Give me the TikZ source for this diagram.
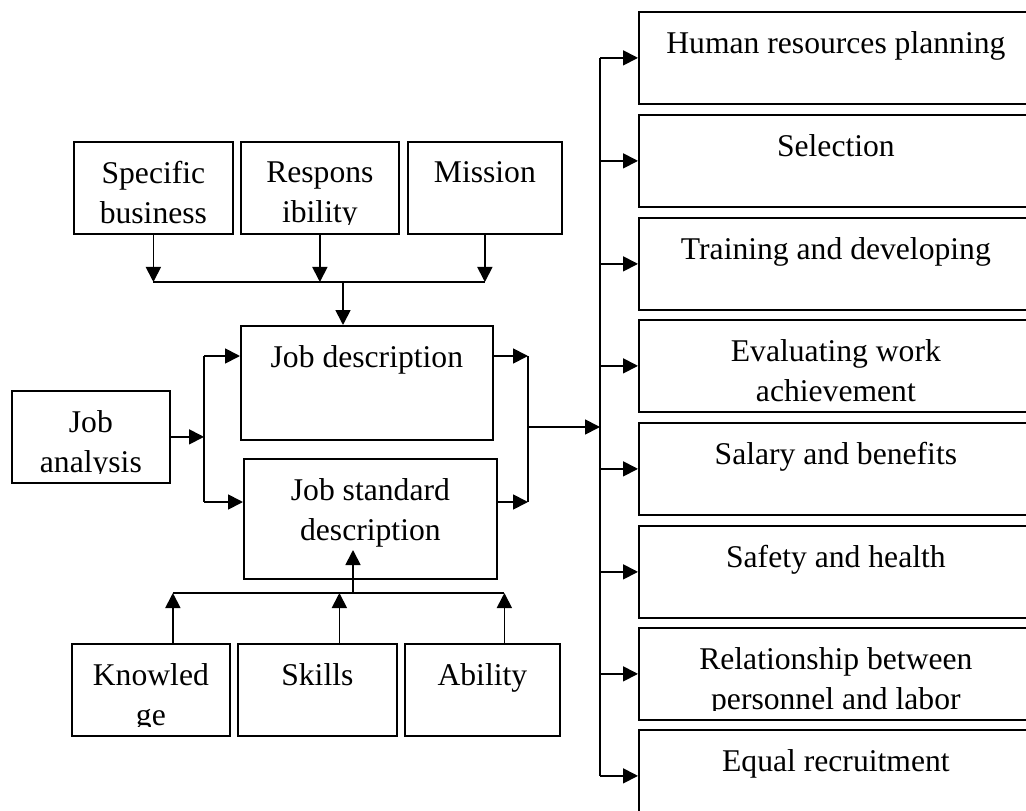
\documentclass[tikz,border=0pt]{standalone}
\usepackage{fontspec}
\setmainfont{Liberation Serif}
\usetikzlibrary{arrows.meta}

\tikzset{
  box/.style={draw, line width=1pt, inner sep=0pt, anchor=north west},
  words/.style={anchor=north, align=center, inner sep=0pt,
    font=\fontsize{18}{22.8}\selectfont},
  arr/.style={-{Triangle[length=3mm,width=3mm]}, line width=1pt},
  ln/.style={line width=1pt},
}

% text sits at the top of a box and is cut off a little above its bottom edge
\newcommand\boxtext[2]{%
  \begin{scope}
    \clip ([yshift=2mm]#1.south west) rectangle (#1.north east);
    \node[words] (#1-txt) at ([yshift=-4mm]#1.north) {#2};
  \end{scope}}

\begin{document}
\begin{tikzpicture}[x=0.2mm, y=-0.2mm]
\useasboundingbox (0,0) rectangle (1026,811);

% top row
\node[box, minimum width=31.8mm, minimum height=18.4mm] (spec) at (73,141) {};
\node[box, minimum width=31.6mm, minimum height=18.4mm] (resp) at (240,141) {};
\node[box, minimum width=30.8mm, minimum height=18.4mm] (miss) at (407,141) {};
\boxtext{spec}{Specific\\business}
\boxtext{resp}{Respons\\ibility}
\boxtext{miss}{Mission}

% middle
\node[box, minimum width=31.6mm, minimum height=18.4mm] (jana) at (11,390) {};
\node[box, minimum width=50.4mm, minimum height=22.8mm] (jdesc) at (240,325) {};
\node[box, minimum width=50.6mm, minimum height=24mm] (jstd) at (243,458) {};
\boxtext{jana}{Job\\analysis}
\boxtext{jdesc}{Job description}
\boxtext{jstd}{Job standard\\description}

% bottom row
\node[box, minimum width=31.6mm, minimum height=18.4mm] (know) at (71,643) {};
\node[box, minimum width=31.8mm, minimum height=18.4mm] (skill) at (237,643) {};
\node[box, minimum width=31mm, minimum height=18.4mm] (abil) at (404,643) {};
\boxtext{know}{Knowled\\ge}
\boxtext{skill}{Skills}
\boxtext{abil}{Ability}

% the functions on the right, one under the other
\coordinate (fan) at (600,427);
\foreach \name/\top/\txt in {hrp/11/Human resources planning, sel/114/Selection,
    train/217/Training and developing, eval/319/Evaluating work\\achievement,
    pay/422/Salary and benefits, safe/525/Safety and health,
    rel/627/Relationship between\\personnel and labor, eqr/729/Equal recruitment}{
  \node[box, minimum width=78.8mm, minimum height=18.4mm] (\name) at (638,\top) {};
  \boxtext{\name}{\txt}
  \draw[arr] (fan |- \name.west) -- (\name.west);
}
\draw[ln] (fan |- hrp.west) -- (fan |- eqr.west);

% into the job description
\coordinate (tbus) at (343,282);
\draw[arr] (spec.south) -- (spec.south |- tbus);
\draw[arr] (resp.south) -- (resp.south |- tbus);
\draw[arr] (miss.south) -- (miss.south |- tbus);
\draw[ln] (spec.south |- tbus) -- (miss.south |- tbus);
\draw[arr] (tbus) -- (tbus |- jdesc.north);

% job analysis splits in two
\coordinate (lup) at (204,356);
\coordinate (ldn) at (204,502);
\draw[arr] (jana.east) -- (lup |- jana.east);
\draw[ln] (lup) -- (ldn);
\draw[arr] (lup) -- (lup -| jdesc.west);
\draw[arr] (ldn) -- (ldn -| jstd.west);

% and joins again on the right
\coordinate (rup) at (528,356);
\coordinate (rdn) at (528,502);
\coordinate (rmid) at (528,427);
\draw[arr] (rup -| jdesc.east) -- (rup);
\draw[arr] (rdn -| jstd.east) -- (rdn);
\draw[ln] (rup) -- (rdn);
\draw[arr] (rmid) -- (fan);

% up into the job standard description
\coordinate (bbus) at (353,593);
\foreach \b in {know,skill,abil}
  \draw[arr] ([xshift=4.4mm]\b.north) -- ++(0,-50);
\draw[ln] ([xshift=4.4mm,yshift=10mm]know.north) -- ([xshift=4.4mm,yshift=10mm]abil.north);
\draw[arr] (bbus) -- ++(0,-43);
\end{tikzpicture}
\end{document}
